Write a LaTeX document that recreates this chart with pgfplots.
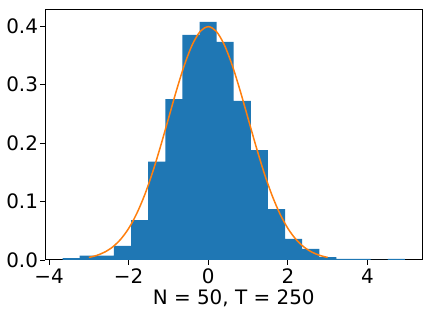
\documentclass[border=0pt]{standalone}
\usepackage{pgfplots}
\pgfplotsset{compat=1.18}
\usepackage{fontspec}
\setmainfont{DejaVu Sans}
\usetikzlibrary{calc}
\definecolor{mplblue}{HTML}{1F77B4}
\definecolor{mplorange}{HTML}{FF7F0E}

\begin{document}
\begin{tikzpicture}
\begin{axis}[
    name=ax,
    scale only axis,
    width=376.5bp, height=250bp,
    xmin=-4.09, xmax=5.37,
    ymin=0, ymax=0.4274,
    xtick={-4,-2,0,2,4},
    xticklabels={−4,−2,0,2,4},
    ytick={0,0.1,0.2,0.3,0.4},
    yticklabels={0.0,0.1,0.2,0.3,0.4},
    tick align=outside,
    xtick pos=bottom, ytick pos=left,
    major tick length=5bp,
    every tick/.style={black, line width=0.8bp},
    axis line style={line width=1bp, black},
    ticklabel style={font=\fontsize{20}{22}\selectfont},
    xticklabel style={yshift=0bp},
    yticklabel style={xshift=1bp},
    xlabel={N = 50, T = 250},
    xlabel style={font=\fontsize{20}{22}\selectfont, yshift=1bp},
]
\addplot[ybar interval, fill=mplblue, draw=none] coordinates {
    (-3.66,0.0034) (-3.23,0.0073) (-2.80,0.0073) (-2.37,0.024)
    (-1.94,0.068) (-1.51,0.168) (-1.08,0.275) (-0.65,0.385)
    (-0.22,0.407) (0.21,0.373) (0.64,0.272) (1.07,0.188)
    (1.50,0.087) (1.93,0.036) (2.36,0.019) (2.79,0.005)
    (3.22,0.0017) (3.65,0.0017) (4.08,0) (4.51,0.0017) (4.94,0)
};
\addplot[mplorange, line width=1.5bp, smooth] coordinates {
    (-3.0,0.0044) (-2.8,0.0079) (-2.6,0.0136) (-2.4,0.0224)
    (-2.2,0.0355) (-2.0,0.0540) (-1.8,0.0790) (-1.6,0.1109)
    (-1.4,0.1497) (-1.2,0.1942) (-1.0,0.2420) (-0.8,0.2897)
    (-0.6,0.3332) (-0.4,0.3683) (-0.2,0.3910) (0.0,0.3989)
    (0.2,0.3910) (0.4,0.3683) (0.6,0.3332) (0.8,0.2897)
    (1.0,0.2420) (1.2,0.1942) (1.4,0.1497) (1.6,0.1109)
    (1.8,0.0790) (2.0,0.0540) (2.2,0.0355) (2.4,0.0224)
    (2.6,0.0136) (2.8,0.0079) (3.0,0.0044)
};
\end{axis}
\path ($(ax.south west)+(-45.5bp,-56bp)$) rectangle ($(ax.north east)+(9bp,10bp)$);
\end{tikzpicture}
\end{document}
